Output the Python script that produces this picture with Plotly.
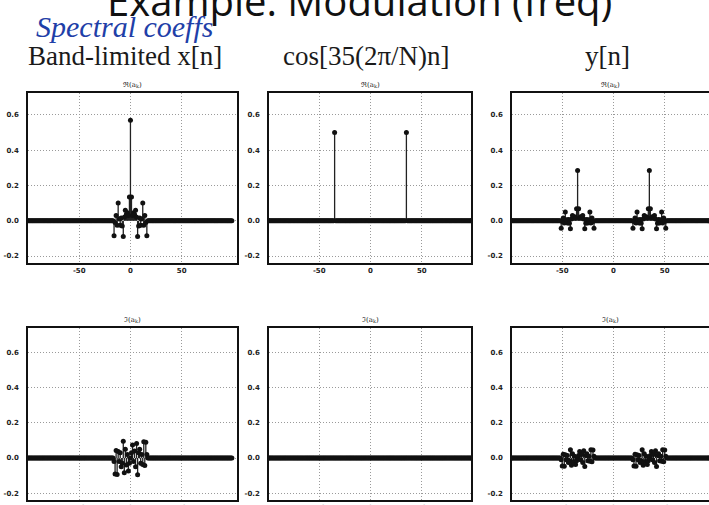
import plotly.graph_objects as go

# ---------------- data ----------------
k_all = list(range(-100, 100))            # DFT index k (N = 200)
band_k = list(range(-16, 17))             # band of non-zero coefficients

# Band-limited x[n]: real part (even) and imaginary part (odd) of a_k, k = -16..16
x_re_band = [-0.085, -0.01, 0.03, -0.025, 0.10, 0.01, -0.025, 0.015, -0.03, -0.09, 0.02, 0.06, 0.035, 0.045, 0.03, 0.135,
             0.57,
             0.135, 0.03, 0.045, 0.035, 0.06, 0.02, -0.09, -0.03, 0.015, -0.025, 0.01, 0.10, -0.025, 0.03, -0.01, -0.085]
x_im_band = [-0.02, -0.09, 0.043, -0.093, 0.037, -0.02, 0.03, -0.05, -0.03, 0.095, -0.083, 0.05, -0.04, 0.02, -0.074, -0.03,
             0.0,
             0.03, 0.074, -0.02, 0.04, -0.05, 0.083, -0.095, 0.03, 0.05, -0.03, 0.02, -0.037, 0.093, -0.043, 0.09, 0.02]

# cos[35(2pi/N)n]
cos_k = [-35, 35]
cos_re = [0.5, 0.5]

# y[n] = x[n] cos[...]: two half-height copies centred at k = -35 and k = +35
y_centres = [-35, 35]
y_re_cluster = [-0.0425, -0.005, 0.015, -0.0125, 0.05, 0.005, -0.0125, 0.0075, -0.015, -0.045, 0.01, 0.03, 0.0175, 0.0225, 0.015, 0.0675,
                0.285,
                0.0675, 0.015, 0.0225, 0.0175, 0.03, 0.01, -0.045, -0.015, 0.0075, -0.0125, 0.005, 0.05, -0.0125, 0.015, -0.005, -0.0425]
y_im_cluster = [-0.01, -0.045, 0.0215, -0.0465, 0.0185, -0.01, 0.015, -0.025, -0.015, 0.0475, -0.0415, 0.025, -0.02, 0.01, -0.037, -0.015,
                0.0,
                0.015, 0.037, -0.01, 0.02, -0.025, 0.0415, -0.0475, 0.015, 0.025, -0.015, 0.01, -0.0185, 0.0465, -0.0215, 0.045, 0.01]

x_tick_vals = [-50, 0, 50]
x_tick_text = ["-50", "0", "50"]
y_tick_vals = [-0.2, 0.0, 0.2, 0.4, 0.6]
y_tick_text = ["-0.2", "0.0", "0.2", "0.4", "0.6"]

col_titles = ["Band-limited x[n]", "cos[35(2\u03c0/N)n]", "y[n]"]
row_titles = ["\u211c(a<sub>k</sub>)", "\u2111(a<sub>k</sub>)"]

# ---------------- build spectra ----------------
x_re = dict(zip(band_k, x_re_band))
x_im = dict(zip(band_k, x_im_band))
c_re = dict(zip(cos_k, cos_re))
c_im = {}
y_re, y_im = {}, {}
for c in y_centres:
    for k, v in zip(band_k, y_re_cluster):
        y_re[c + k] = v
    for k, v in zip(band_k, y_im_cluster):
        y_im[c + k] = v

panels = [[x_re, c_re, y_re], [x_im, c_im, y_im]]

# ---------------- layout geometry ----------------
W, H = 709, 505
col_px = [(28, 237), (269, 471), (512, 709)]
row_px = [(92.7, 262.7), (328.3, 500)]
col_range = [[-100, 104], [-99, 98], [-99, 93.2]]
row_range = [[-0.238, 0.726], [-0.238, 0.736]]

fig = go.Figure()
layout = dict(width=W, height=H, margin=dict(l=0, r=0, t=0, b=0),
              template="none", paper_bgcolor="white", plot_bgcolor="white",
              showlegend=False)

ax_common = dict(showline=True, linecolor="#111", linewidth=1.5,
                 showgrid=True, gridcolor="#9a9a9a", griddash="1px,2px", gridwidth=1,
                 zeroline=False, automargin=False,
                 tickfont=dict(family="DejaVu Sans", size=7, color="#222", weight="bold"))

annotations = []
idx = 0
for r in range(2):
    for c in range(3):
        idx += 1
        xa = "x" if idx == 1 else f"x{idx}"
        ya = "y" if idx == 1 else f"y{idx}"
        d = panels[r][c]
        vals = [d.get(k, 0.0) for k in k_all]
        sx, sy = [], []
        for k in k_all:
            v = d.get(k, 0.0)
            if v != 0.0:
                sx += [k, k, None]
                sy += [0.0, v, None]
        if sx:
            fig.add_trace(go.Scatter(x=sx, y=sy, mode="lines", xaxis=xa, yaxis=ya,
                                     line=dict(color="#222", width=1.3), hoverinfo="skip"))
        fig.add_trace(go.Scatter(x=k_all, y=vals, mode="markers", xaxis=xa, yaxis=ya,
                                 marker=dict(color="#111", size=5, line=dict(width=0))))
        x0, x1 = col_px[c]
        y0, y1 = row_px[r]
        xkey = "xaxis" if idx == 1 else f"xaxis{idx}"
        ykey = "yaxis" if idx == 1 else f"yaxis{idx}"
        layout[xkey] = dict(ax_common, domain=[x0 / W, x1 / W], range=col_range[c],
                            anchor=ya, tickvals=x_tick_vals, ticktext=x_tick_text,
                            ticks="", mirror=True)
        layout[ykey] = dict(ax_common, domain=[1 - y1 / H, 1 - y0 / H], range=row_range[r],
                            anchor=xa, tickvals=y_tick_vals, ticktext=y_tick_text,
                            ticks="outside", ticklen=6, tickcolor="rgba(0,0,0,0)",
                            mirror=(c < 2))
        # small panel title
        cx = (x0 + min(x1, 709)) / 2
        annotations.append(dict(text=row_titles[r], x=cx / W, y=1 - (y0 - 8) / H,
                                xref="paper", yref="paper", showarrow=False,
                                xanchor="center", yanchor="middle",
                                font=dict(family="DejaVu Serif", size=7, color="#222")))

# column headings (serif)
col_centres = [125, 366, 607]
for t, cx in zip(col_titles, col_centres):
    annotations.append(dict(text=t, x=cx / W, y=1 - 56 / H, xref="paper", yref="paper",
                            showarrow=False, xanchor="center", yanchor="middle",
                            font=dict(family="Liberation Serif", size=27, color="#1a1a1a")))

# slide title (cut off at the top of the photo)
annotations.append(dict(text="Example: Modulation (freq)", x=359 / W, y=1 - 30 / H,
                        xref="paper", yref="paper", showarrow=False,
                        xanchor="center", yanchor="bottom",
                        font=dict(family="Open Sans", size=40, color="#111")))

# handwritten note
annotations.append(dict(text="<i>Spectral coeffs</i>", x=124 / W, y=1 - 26 / H,
                        xref="paper", yref="paper", showarrow=False,
                        xanchor="center", yanchor="middle",
                        font=dict(family="Liberation Serif", size=30, color="#1f3fa8")))

layout["annotations"] = annotations
fig.update_layout(**layout)
fig.write_html("out.html", config={"displayModeBar": False},
               post_script="document.body.style.margin='0';")
